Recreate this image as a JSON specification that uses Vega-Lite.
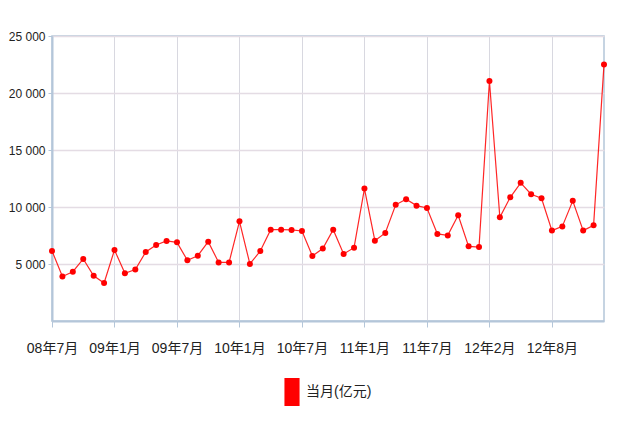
{
  "$schema": "https://vega.github.io/schema/vega-lite/v6.json",
  "width": 552,
  "height": 285,
  "autosize": {"type": "none"},
  "padding": {"left": 52, "top": 36, "right": 40, "bottom": 111},
  "background": "white",
  "config": {
    "font": "Liberation Sans Narrow, Liberation Sans, Noto Sans CJK SC, sans-serif",
    "view": {"stroke": "#b4c6d9", "strokeWidth": 1.5}
  },
  "data": {
    "values": [
      {"month": "08年7月", "v": 6150, "s": "当月(亿元)"},
      {"month": "08年8月", "v": 3910, "s": "当月(亿元)"},
      {"month": "08年9月", "v": 4320, "s": "当月(亿元)"},
      {"month": "08年10月", "v": 5440, "s": "当月(亿元)"},
      {"month": "08年11月", "v": 3970, "s": "当月(亿元)"},
      {"month": "08年12月", "v": 3330, "s": "当月(亿元)"},
      {"month": "09年1月", "v": 6230, "s": "当月(亿元)"},
      {"month": "09年2月", "v": 4180, "s": "当月(亿元)"},
      {"month": "09年3月", "v": 4520, "s": "当月(亿元)"},
      {"month": "09年4月", "v": 6050, "s": "当月(亿元)"},
      {"month": "09年5月", "v": 6670, "s": "当月(亿元)"},
      {"month": "09年6月", "v": 7020, "s": "当月(亿元)"},
      {"month": "09年7月", "v": 6900, "s": "当月(亿元)"},
      {"month": "09年8月", "v": 5320, "s": "当月(亿元)"},
      {"month": "09年9月", "v": 5730, "s": "当月(亿元)"},
      {"month": "09年10月", "v": 6960, "s": "当月(亿元)"},
      {"month": "09年11月", "v": 5140, "s": "当月(亿元)"},
      {"month": "09年12月", "v": 5140, "s": "当月(亿元)"},
      {"month": "10年1月", "v": 8740, "s": "当月(亿元)"},
      {"month": "10年2月", "v": 5000, "s": "当月(亿元)"},
      {"month": "10年3月", "v": 6140, "s": "当月(亿元)"},
      {"month": "10年4月", "v": 8010, "s": "当月(亿元)"},
      {"month": "10年5月", "v": 8010, "s": "当月(亿元)"},
      {"month": "10年6月", "v": 7990, "s": "当月(亿元)"},
      {"month": "10年7月", "v": 7900, "s": "当月(亿元)"},
      {"month": "10年8月", "v": 5700, "s": "当月(亿元)"},
      {"month": "10年9月", "v": 6360, "s": "当月(亿元)"},
      {"month": "10年10月", "v": 8010, "s": "当月(亿元)"},
      {"month": "10年11月", "v": 5880, "s": "当月(亿元)"},
      {"month": "10年12月", "v": 6430, "s": "当月(亿元)"},
      {"month": "11年1月", "v": 11620, "s": "当月(亿元)"},
      {"month": "11年2月", "v": 7050, "s": "当月(亿元)"},
      {"month": "11年3月", "v": 7720, "s": "当月(亿元)"},
      {"month": "11年4月", "v": 10190, "s": "当月(亿元)"},
      {"month": "11年5月", "v": 10680, "s": "当月(亿元)"},
      {"month": "11年6月", "v": 10120, "s": "当月(亿元)"},
      {"month": "11年7月", "v": 9920, "s": "当月(亿元)"},
      {"month": "11年8月", "v": 7640, "s": "当月(亿元)"},
      {"month": "11年9月", "v": 7510, "s": "当月(亿元)"},
      {"month": "11年10月", "v": 9270, "s": "当月(亿元)"},
      {"month": "11年11月", "v": 6550, "s": "当月(亿元)"},
      {"month": "11年12月", "v": 6490, "s": "当月(亿元)"},
      {"month": "12年2月", "v": 21050, "s": "当月(亿元)"},
      {"month": "12年3月", "v": 9100, "s": "当月(亿元)"},
      {"month": "12年4月", "v": 10850, "s": "当月(亿元)"},
      {"month": "12年5月", "v": 12120, "s": "当月(亿元)"},
      {"month": "12年6月", "v": 11120, "s": "当月(亿元)"},
      {"month": "12年7月", "v": 10770, "s": "当月(亿元)"},
      {"month": "12年8月", "v": 7930, "s": "当月(亿元)"},
      {"month": "12年9月", "v": 8300, "s": "当月(亿元)"},
      {"month": "12年10月", "v": 10540, "s": "当月(亿元)"},
      {"month": "12年11月", "v": 7930, "s": "当月(亿元)"},
      {"month": "12年12月", "v": 8390, "s": "当月(亿元)"},
      {"month": "13年2月", "v": 22490, "s": "当月(亿元)"}
    ]
  },
  "encoding": {
    "x": {
      "field": "month",
      "type": "ordinal",
      "sort": null,
      "scale": {"type": "point", "padding": 0},
      "axis": {
        "title": null,
        "values": ["08年7月", "09年1月", "09年7月", "10年1月", "10年7月", "11年1月", "11年7月", "12年2月", "12年8月"],
        "labelAngle": 0,
        "labelFontSize": 14,
        "labelColor": "#222222",
        "labelPadding": 14,
        "tickSize": 6,
        "tickColor": "#b4c6d9",
        "domainColor": "#b4c6d9",
        "domainWidth": 2,
        "grid": true,
        "gridColor": "#d8d8e0",
        "gridWidth": 1
      }
    },
    "y": {
      "field": "v",
      "type": "quantitative",
      "scale": {"domain": [0, 25000], "nice": false},
      "axis": {
        "title": null,
        "values": [5000, 10000, 15000, 20000, 25000],
        "labelExpr": "replace(format(datum.value, ','), ',', ' ')",
        "labelFontSize": 12,
        "labelColor": "#222222",
        "labelPadding": 3,
        "tickSize": 4,
        "tickColor": "#b4c6d9",
        "domainColor": "#b4c6d9",
        "domainWidth": 2,
        "grid": true,
        "gridColor": "#e4dce4",
        "gridWidth": 1.5
      }
    },
    "color": {
      "field": "s",
      "type": "nominal",
      "scale": {"range": ["#ff0000"]},
      "legend": {
        "title": null,
        "orient": "none",
        "legendX": 226,
        "legendY": 342,
        "direction": "horizontal",
        "symbolType": "M-0.54,-1H0.54V1H-0.54Z",
        "symbolSize": 784,
        "symbolFillColor": "#ff0000",
        "symbolStrokeWidth": 0,
        "symbolOpacity": 1,
        "labelFontSize": 14,
        "labelColor": "#222222",
        "labelOffset": 0
      }
    }
  },
  "layer": [
    {"mark": {"type": "line", "strokeWidth": 1.2, "opacity": 0.85}},
    {"mark": {"type": "point", "filled": true, "size": 36, "opacity": 1}}
  ]
}
